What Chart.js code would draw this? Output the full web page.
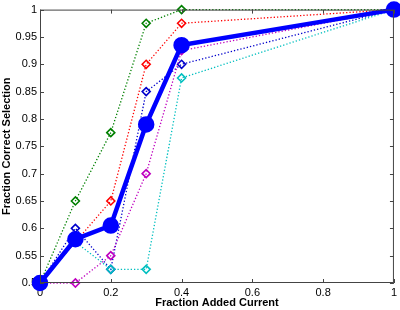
<!DOCTYPE html>
<html>
<head>
<meta charset="utf-8">
<script src="https://cdn.jsdelivr.net/npm/chart.js@4"></script>
<style>
  html, body { margin: 0; padding: 0; background: #fff; }
  #wrap { width: 400px; height: 310px; position: relative; }
</style>
</head>
<body>
<div id="wrap"><canvas id="c" width="400" height="310"></canvas></div>
<script>
const fractionAdded = [0, 0.1, 0.2, 0.3, 0.4, 1];
const meanSeries    = [0.5, 0.58, 0.605, 0.79, 0.935, 1];
const greenSeries   = [0.5, 0.65, 0.775, 0.975, 1, 1];
const redSeries     = [0.5, 0.575, 0.65, 0.9, 0.975, 1];
const blueSeries    = [0.5, 0.6, 0.525, 0.85, 0.9, 1];
const magentaSeries = [0.5, 0.5, 0.55, 0.7, 0.925, 1];
const cyanSeries    = [0.5, 0.575, 0.525, 0.525, 0.875, 1];
const xTicks = [0, 0.2, 0.4, 0.6, 0.8, 1];
const yTicks = [0.5, 0.55, 0.6, 0.65, 0.7, 0.75, 0.8, 0.85, 0.9, 0.95, 1];

const pts = ys => fractionAdded.map((x, i) => ({ x: x, y: ys[i] }));

function dotted(data, color, order) {
  return {
    data: pts(data),
    borderColor: color,
    backgroundColor: '#ffffff',
    borderWidth: 1.3,
    borderDash: [1.3, 2],
    pointStyle: 'rectRot',
    pointRadius: 4,
    pointBorderWidth: 1.6,
    pointBorderColor: color,
    pointBackgroundColor: 'rgba(255,255,255,0)',
    clip: false,
    order: order,
    tension: 0
  };
}

const frame = {
  id: 'frame',
  afterDatasetsDraw(chart) {
    const { ctx, chartArea: a, scales } = chart;
    ctx.save();
    ctx.strokeStyle = '#444';
    ctx.lineWidth = 1;
    ctx.strokeRect(a.left + 0.5, a.top + 0.5, a.right - a.left - 1, a.bottom - a.top - 1);
    const L = 4;
    ctx.beginPath();
    xTicks.forEach(v => {
      const px = Math.round(scales.x.getPixelForValue(v)) + 0.5;
      ctx.moveTo(px, a.bottom); ctx.lineTo(px, a.bottom - L);
      ctx.moveTo(px, a.top); ctx.lineTo(px, a.top + L);
    });
    yTicks.forEach(v => {
      const py = Math.round(scales.y.getPixelForValue(v)) + 0.5;
      ctx.moveTo(a.left, py); ctx.lineTo(a.left + L, py);
      ctx.moveTo(a.right, py); ctx.lineTo(a.right - L, py);
    });
    ctx.stroke();
    ctx.restore();
  }
};

new Chart(document.getElementById('c'), {
  type: 'line',
  data: {
    datasets: [
      {
        data: pts(meanSeries),
        borderColor: '#0000ff',
        backgroundColor: '#0000ff',
        borderWidth: 4.5,
        pointStyle: 'circle',
        pointRadius: 6,
        pointBackgroundColor: '#0000ff',
        pointBorderColor: '#0000ff',
        clip: false,
        order: 0,
        tension: 0
      },
      dotted(greenSeries, '#008000', 5),
      dotted(redSeries, '#ff0000', 4),
      dotted(blueSeries, '#0000cc', 3),
      dotted(magentaSeries, '#bf00bf', 2),
      dotted(cyanSeries, '#00bfbf', 1)
    ]
  },
  options: {
    responsive: false,
    animation: false,
    events: [],
    layout: { autoPadding: false, padding: { top: 5, right: 6, left: 0, bottom: 0 } },
    plugins: { legend: { display: false }, tooltip: { enabled: false } },
    scales: {
      x: {
        type: 'linear',
        min: 0, max: 1,
        afterBuildTicks: s => { s.ticks = xTicks.map(v => ({ value: v })); },
        afterFit: s => { s.height = 27; },
        grid: { display: false, drawTicks: false },
        border: { display: false },
        ticks: {
          color: '#000',
          padding: 3,
          maxRotation: 0,
          font: { family: 'Liberation Sans', size: 11 },
          callback: v => String(v)
        },
        title: {
          display: true,
          text: 'Fraction Added Current',
          color: '#000',
          padding: { top: 0, bottom: 0 },
          font: { family: 'Liberation Sans', size: 11, weight: 'bold' }
        }
      },
      y: {
        type: 'linear',
        min: 0.5, max: 1,
        afterBuildTicks: s => { s.ticks = yTicks.map(v => ({ value: v })); },
        afterFit: s => { s.width = 40; },
        grid: { display: false, drawTicks: false },
        border: { display: false },
        ticks: {
          color: '#000',
          padding: 3,
          font: { family: 'Liberation Sans', size: 11 },
          callback: v => String(Math.round(v * 100) / 100)
        },
        title: {
          display: true,
          text: 'Fraction Correct Selection',
          color: '#000',
          padding: { top: 0, bottom: 0 },
          font: { family: 'Liberation Sans', size: 11, weight: 'bold' }
        }
      }
    }
  },
  plugins: [frame]
});
</script>
</body>
</html>
